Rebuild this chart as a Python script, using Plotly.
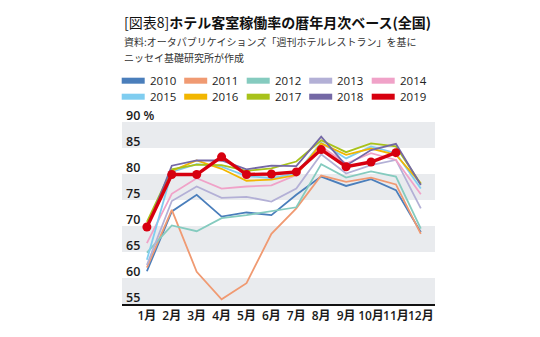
import plotly.graph_objects as go

months = ["1月", "2月", "3月", "4月", "5月", "6月", "7月", "8月", "9月", "10月", "11月", "12月"]
years = ["2010", "2011", "2012", "2013", "2014", "2015", "2016", "2017", "2018", "2019"]
colors = ["#4a7ebb", "#f09a72", "#85cbbf", "#b3b0d6", "#f0a2c8",
          "#7fcdf0", "#f2b600", "#a8c21a", "#7468a5", "#d7000f"]

v2010 = [61.3, 72.8, 76.0, 71.8, 72.6, 72.1, 76.0, 79.5, 77.7, 79.0, 76.9, 68.8]
v2011 = [62.0, 73.1, 61.2, 55.9, 59.0, 68.5, 73.4, 79.7, 78.5, 79.3, 78.0, 68.5]
v2012 = [64.9, 70.1, 69.0, 71.5, 72.1, 72.8, 73.6, 81.9, 79.3, 80.5, 79.5, 69.5]
v2013 = [62.5, 74.8, 77.6, 75.4, 75.6, 74.7, 77.2, 83.8, 80.1, 81.7, 82.7, 73.4]
v2014 = [66.7, 76.2, 79.2, 77.2, 77.6, 77.8, 79.8, 85.3, 82.0, 84.0, 82.7, 76.1]
v2015 = [63.5, 80.4, 81.9, 81.4, 79.6, 79.2, 80.1, 86.0, 83.0, 85.3, 84.0, 77.2]
v2016 = [70.3, 80.6, 82.6, 81.0, 78.7, 78.9, 79.8, 85.9, 83.7, 84.9, 83.7, 78.2]
v2017 = [70.8, 80.9, 81.8, 81.7, 80.6, 81.1, 82.4, 86.5, 84.2, 85.9, 85.3, 78.1]
v2018 = [69.5, 81.6, 82.6, 82.6, 80.9, 81.6, 81.5, 87.2, 81.6, 84.6, 85.8, 77.9]
v2019 = [69.8, 79.9, 79.9, 83.3, 79.9, 80.0, 80.4, 84.7, 81.4, 82.3, 84.1, None]
series = [v2010, v2011, v2012, v2013, v2014, v2015, v2016, v2017, v2018, v2019]

ytick_vals = [55, 60, 65, 70, 75, 80, 85, 90]
ytick_text = ["55", "60", "65", "70", "75", "80", "85", "90 %"]
bands = [(55, 60), (65, 70), (75, 80), (85, 90)]

title_text = "[図表8]<b>ホテル客室稼働率の暦年月次ベース(全国)</b>"
source_lines = ["資料:オータパブリケイションズ「週刊ホテルレストラン」を基に",
                "ニッセイ基礎研究所が作成"]

FONT = "Open Sans, Noto Sans CJK JP, sans-serif"
CJK = "Noto Sans CJK JP, sans-serif"

# plot-area geometry in pixels (used to place legend/title in paper coords)
PL, PR, PT, PB = 122, 435, 122, 304


def px_x(px):
    return (px - PL) / (PR - PL)


def px_y(py):
    return (PB - py) / (PB - PT)


fig = go.Figure()

for name, vals, col in zip(years, series, colors):
    is_last = name == "2019"
    fig.add_trace(go.Scatter(
        x=months, y=vals, name=name, showlegend=False,
        mode="lines+markers" if is_last else "lines",
        line=dict(color=col, width=3.4 if is_last else 1.8),
        marker=dict(size=9, color=col) if is_last else None,
        connectgaps=False, hoverinfo="skip",
    ))

for lo, hi in bands:
    fig.add_shape(type="rect", xref="paper", x0=0, x1=1, yref="y", y0=lo, y1=hi,
                  fillcolor="#e9ebee", line=dict(width=0), layer="below")

for v, t in zip(ytick_vals, ytick_text):
    fig.add_annotation(xref="paper", x=0, xanchor="left", xshift=2,
                       yref="y", y=v, yanchor="middle", yshift=6.5,
                       text=t, showarrow=False,
                       font=dict(family=FONT, size=12.5, color="#1a1a1a", weight=600))

# legend: two rows of five swatches
for i, (name, col) in enumerate(zip(years, colors)):
    row, c = divmod(i, 5)
    x0 = 121.7 + c * 62.5
    yc = 80.7 + row * 16
    fig.add_shape(type="rect", xref="paper", yref="paper",
                  x0=px_x(x0), x1=px_x(x0 + 23), y0=px_y(yc + 3), y1=px_y(yc - 3),
                  fillcolor=col, line=dict(width=0))
    fig.add_annotation(xref="paper", yref="paper", x=px_x(x0 + 26), y=px_y(yc),
                       xanchor="left", yanchor="middle", text=name, showarrow=False,
                       font=dict(family=FONT, size=11.5, color="#222"))

fig.add_annotation(xref="paper", yref="paper", x=px_x(122), y=px_y(22.5),
                   xanchor="left", yanchor="middle", text=title_text,
                   showarrow=False, font=dict(family=CJK, size=14, color="#111"))
for i, line in enumerate(source_lines):
    fig.add_annotation(xref="paper", yref="paper", x=px_x(122), y=px_y(41 + 17 * i),
                       xanchor="left", yanchor="middle", text=line,
                       showarrow=False, font=dict(family=CJK, size=10, color="#333"))

fig.update_layout(
    width=540, height=337,
    margin=dict(l=PL, r=540 - PR, t=PT, b=337 - PB, autoexpand=False),
    paper_bgcolor="white", plot_bgcolor="white",
    showlegend=False,
    xaxis=dict(type="category", range=[-1.0, 11.57], showgrid=False, zeroline=False,
               showline=True, linecolor="#111", linewidth=1.5, ticks="",
               tickangle=0, automargin=False,
               tickfont=dict(family=FONT, size=12, color="#1a1a1a", weight=600)),
    yaxis=dict(range=[55, 90], showgrid=False, zeroline=False, showticklabels=False,
               showline=False, ticks="", automargin=False),
)

fig.write_html("out.html")
